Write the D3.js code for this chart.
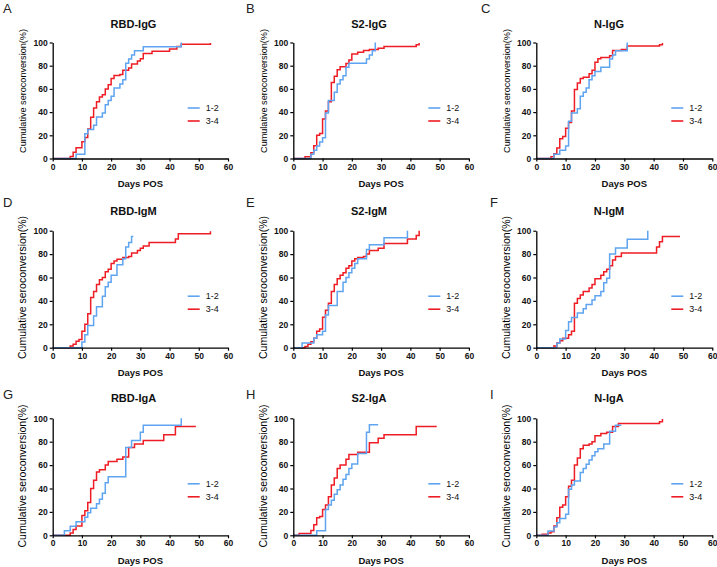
<!DOCTYPE html>
<html><head><meta charset="utf-8">
<script src="https://cdn.jsdelivr.net/npm/d3@7"></script>
<style>body{margin:0;background:#fff}svg{display:block}</style>
</head><body><svg id="c" width="717" height="567"></svg>
<script>
// Step data: [day, cumulative %], group 1-2 (blue) and 3-4 (red)
const rbdIgG_12 = [[0,0],[8,3.6],[11,21.4],[12,25],[14,28.6],[15,35.7],[17,39.3],[18,46.4],[19,50],[20,53.6],[21,60.7],[23,64.3],[24,67.9],[25,82.1],[26,85.7],[27,89.3],[28,92.9],[31,96.4],[44,100]];
const rbdIgG_34 = [[0,0],[6,1.8],[7,5.4],[8,9.3],[10,14.5],[11,18],[12,25.5],[13,35.5],[14,43.5],[15,49],[16,53],[17,55],[18,60],[19,63.5],[20,69],[21,71.5],[23,72.5],[24,76],[26,78],[27,81.5],[29,84],[30,86],[31,90.5],[34,92.5],[40,94.5],[42.5,96.5],[44,98.5],[54,99.5]];
const s2IgG_12 = [[0,0],[6,3.6],[7,7.1],[8,10.7],[9,14.3],[10,17.9],[11,39.3],[12,50],[14,57.1],[15,64.3],[16,67.9],[17,71.4],[18,78.6],[19,82.1],[25,85.7],[26,89.3],[27,92.9],[28,100]];
const s2IgG_34 = [[0,0],[4,1.5],[6,5],[7,11],[8,20],[9,21.5],[10,34],[11,41],[12,49],[13,65.5],[14,71],[15,76.5],[16,79],[18,82],[19,85],[20,90],[22,91.5],[24,93],[26,94],[29,95],[31,96.5],[42,98],[43,99.5]];
const nIgG_12 = [[0,0],[6,3.6],[8,7.1],[10,10.7],[11,32.1],[12,39.3],[14,42.9],[15,53.6],[16,57.1],[17,60.7],[18,67.9],[19,71.4],[20,75],[22,78.6],[25,85.7],[26,89.3],[27,92.9],[31,100]];
const nIgG_34 = [[0,0],[5,1.5],[6,4],[7,9],[8,17],[9,19],[10,26],[11,31],[12,41],[13,59.5],[14,65],[15,69],[16,70],[18,73],[19,76],[20,83],[21,86],[22,87],[25,88.5],[26,93],[29,94],[31,97],[42,98],[43,99.5]];
const rbdIgM_12 = [[0,0],[10,4.8],[11,11],[12,19],[14,27],[15,35],[17,44],[18,52],[19,56],[20,62],[22,71],[24,76],[25,86],[26,90],[27,95],[27.6,95]];
const rbdIgM_34 = [[0,0],[6,1.5],[7,3],[8,5.5],[9,7],[10,14],[11,20],[12,29],[13,43],[14,48],[15,54],[16,58],[17,60],[18,65],[19,67],[20,72],[21,74],[22,75.5],[24,77],[26,78],[27,81],[29,83],[30,85],[31,87],[33,90],[42,93],[43,97.5],[54,99.5]];
const s2IgM_12 = [[0,0],[3,4],[7,8],[8,11],[10,14],[11,28],[12,36],[15,48],[17,56],[18,60],[19,64],[20,68],[21,72],[22,76],[25,84],[26,88],[31,94],[39,100]];
const s2IgM_34 = [[0,0],[4,1],[5,3],[6,5],[7,8],[8,14],[9,16],[10,26],[11,32],[12,38],[13,48],[14,54],[15,59],[16,62],[17,64],[18,68],[19,70],[20,74],[21,76],[22,77],[24,78],[25,80],[26,83],[29,85],[31,89],[39,93],[42,96],[43,100]];
const nIgM_12 = [[0,0],[7,3.7],[8,7.4],[10,14.8],[11,22.2],[12,25.9],[14,29.6],[16,33.3],[17,37],[19,40.7],[20,44.4],[22,48.1],[23,55.6],[24,59.3],[25,80],[27,85.2],[31,92.6],[38,100]];
const nIgM_34 = [[0,0],[6,1.5],[7,4],[8,6],[9,8],[11,11],[12,14],[13,38],[14,42],[15,45],[16,48],[18,51],[19,54],[20,59],[22,62],[23,65],[24,67],[25,70],[26,75],[27,78],[29,81],[41,86],[42,90.5],[43,95],[49,95]];
const rbdIgA_12 = [[0,0],[4,3.8],[6,7.7],[8,11.5],[11,15.4],[12,19.2],[13,23.1],[15,26.9],[16,30.8],[17,36],[18,45],[19,50],[25,75],[27,81],[30,88],[31,94],[44,100]];
const rbdIgA_34 = [[0,0],[6,2],[7,5],[8,8],[10,17],[11,21],[12,28],[13,40],[14,47],[15,54],[16,56],[18,60],[19,63],[22,65],[24,67],[26,75],[28,78],[31,81],[38,86],[42,93],[49,93]];
const s2IgA_12 = [[0,0],[8,3.8],[11,22],[12,26],[13,30],[14,35],[15,39],[16,43],[17,48],[18,52],[19,57],[20,61],[22,70],[25,88],[26,94.5],[29,94.5]];
const s2IgA_34 = [[0,0],[2,1.5],[6,4],[7,9],[8,15],[9,16],[10,22],[11,26],[12,33],[13,43],[14,49],[15,57],[16,60],[18,65],[19,69],[22,71],[26,79],[29,83],[31,86],[42,93],[49,93]];
const nIgA_12 = [[0,0],[4,3.6],[6,7.1],[7,10.7],[8,14.3],[10,17.9],[11,39.3],[12,42.9],[13,46.4],[15,53.6],[16,57.1],[17,60.7],[18,64.3],[19,67.9],[20,71.4],[21,74],[23,78],[25,89],[27,94],[29,94]];
const nIgA_34 = [[0,0],[2,1],[4,2],[5,3],[6,8],[7,15],[8,24],[9,26],[10,33],[11,42],[12,47],[13,60],[14,66],[15,74],[16,77],[18,78],[19,80],[20,85],[22,87],[24,88],[26,93],[28,95.5],[42,97],[43,99.5]];

const panelLetters = ["A","B","C","D","E","F","G","H","I"];
const panelTitles = ["RBD-IgG","S2-IgG","N-IgG","RBD-IgM","S2-IgM","N-IgM","RBD-IgA","S2-IgA","N-IgA"];
const seriesLow = [rbdIgG_12,s2IgG_12,nIgG_12,rbdIgM_12,s2IgM_12,nIgM_12,rbdIgA_12,s2IgA_12,nIgA_12];
const seriesHigh = [rbdIgG_34,s2IgG_34,nIgG_34,rbdIgM_34,s2IgM_34,nIgM_34,rbdIgA_34,s2IgA_34,nIgA_34];
const legendLabels = ["1-2","3-4"];
const xTicks = [0,10,20,30,40,50,60];
const yTicks = [0,20,40,60,80,100];

const BLUE = "#5fa4f0", RED = "#ee1c24";
const FONT = "'Liberation Sans', Arial, sans-serif";

// layout
const colX0 = [52.7, 293.3, 536.3];
const colW  = [175.3, 175.6, 176];
const rowTop = [42.5, 230.7, 418.3];
const rowBot = [158.5, 347.7, 535.3];
const titleX = [133.5, 369, 609];
const titleY = [28, 215, 402];
const letterX = [[3,246,481],[3,246,490],[3,246,490]];
const letterY = [13, 207, 399];
const ylabY = [91, 287.5, 476];
const ylabSize = [9.1, 10.5, 10.5];

const svg = d3.select("#c");

for (let i = 0; i < 9; i++) {
  const r = Math.floor(i/3), c = i % 3;
  const x = d3.scaleLinear().domain([0,60]).range([colX0[c], colX0[c]+colW[c]]);
  const y = d3.scaleLinear().domain([0,100]).range([rowBot[r], rowTop[r]]);
  const g = svg.append("g");

  g.append("text").attr("x", letterX[r][c]).attr("y", letterY[r])
    .attr("font-family", FONT).attr("font-size", 13).attr("fill", "#222")
    .text(panelLetters[i]);
  g.append("text").attr("x", titleX[c]).attr("y", titleY[r]).attr("text-anchor","middle")
    .attr("font-family", FONT).attr("font-size", 11).attr("font-weight","bold").attr("fill","#111")
    .text(panelTitles[i]);

  // curves (red first, blue on top)
  const line = d3.line().x(d => x(d[0])).y(d => y(d[1])).curve(d3.curveStepAfter);
  g.append("path").datum(seriesHigh[i]).attr("d", line).attr("fill","none")
    .attr("stroke", RED).attr("stroke-width", 1.5);
  g.append("path").datum(seriesLow[i]).attr("d", line).attr("fill","none")
    .attr("stroke", BLUE).attr("stroke-width", 1.5);

  const xa = g.append("g").attr("transform", `translate(0,${rowBot[r]})`)
    .call(d3.axisBottom(x).tickValues(xTicks).tickSize(3).tickSizeOuter(0).tickPadding(2));
  const ya = g.append("g").attr("transform", `translate(${colX0[c]},0)`)
    .call(d3.axisLeft(y).tickValues(yTicks).tickSize(3).tickSizeOuter(0).tickPadding(2));
  [xa, ya].forEach(a => {
    a.select(".domain").attr("stroke","#000").attr("stroke-width",1.3);
    a.selectAll(".tick line").attr("stroke","#000").attr("stroke-width",1.2);
    a.selectAll(".tick text").attr("font-family", FONT).attr("font-size", 8.5)
      .attr("font-weight","bold").attr("fill","#111");
  });

  g.append("text").attr("x", (colX0[c] + colW[c]/2)).attr("y", rowBot[r] + 28.5)
    .attr("text-anchor","middle").attr("font-family", FONT).attr("font-size", 9.5)
    .attr("font-weight","bold").attr("fill","#111").text("Days POS");
  g.append("text").attr("transform", `translate(${colX0[c]-26.5},${ylabY[r]}) rotate(-90)`)
    .attr("text-anchor","middle").attr("font-family", FONT).attr("font-size", ylabSize[r])
    .attr("fill","#000").text("Cumulative seroconversion(%)");

  const lx = colX0[c] + 135, ly = rowTop[r] + 65.5;
  [BLUE, RED].forEach((col, k) => {
    g.append("line").attr("x1", lx).attr("x2", lx+12).attr("y1", ly+k*13).attr("y2", ly+k*13)
      .attr("stroke", col).attr("stroke-width", 1.6);
    g.append("text").attr("x", lx+18).attr("y", ly+k*13).attr("dy","0.35em")
      .attr("font-family", FONT).attr("font-size", 9).attr("fill","#111").text(legendLabels[k]);
  });
}
</script></body></html>
